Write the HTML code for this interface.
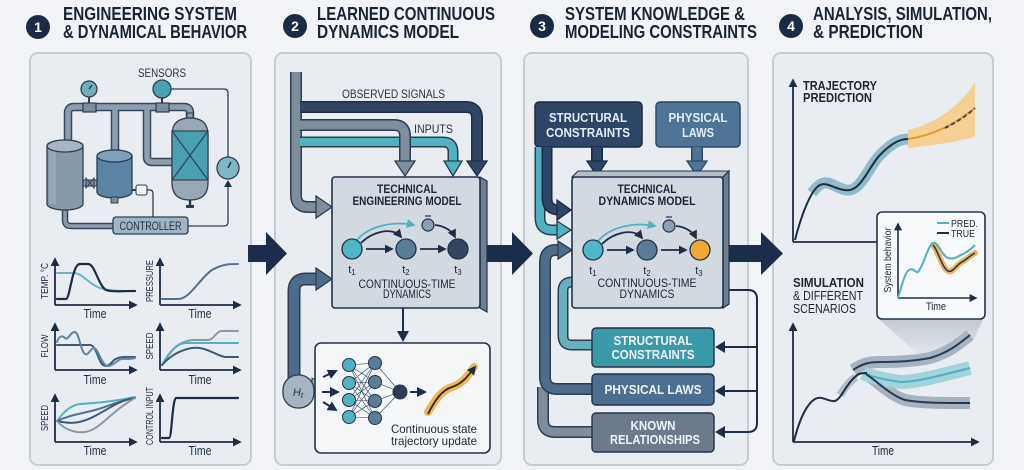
<!DOCTYPE html>
<html><head><meta charset="utf-8"><style>
html,body{margin:0;padding:0;background:#f1f3f6;}
svg{display:block;}
text{font-family:"Liberation Sans",sans-serif;}
.ti{font-weight:bold;font-size:18px;fill:#1b2433;}
.b{font-weight:bold;}
</style></head><body>
<svg width="1024" height="470" viewBox="0 0 1024 470" xmlns="http://www.w3.org/2000/svg">
<defs>
<marker id="ax" viewBox="0 0 10 10" refX="8" refY="5" markerWidth="5" markerHeight="5" orient="auto"><path d="M0,0 L10,5 L0,10 Z" fill="#1e2d45"/></marker>
<marker id="md" viewBox="0 0 10 10" refX="8" refY="5" markerWidth="5" markerHeight="5" orient="auto"><path d="M0,0 L10,5 L0,10 Z" fill="#1e2d45"/></marker>
<marker id="mc" viewBox="0 0 10 10" refX="8" refY="5" markerWidth="5" markerHeight="5" orient="auto"><path d="M0,0 L10,5 L0,10 Z" fill="#4fb1c2"/></marker>
<linearGradient id="spot" x1="0" y1="0" x2="0" y2="1"><stop offset="0" stop-color="#c2c9d1"/><stop offset="1" stop-color="#e6eaee"/></linearGradient>
</defs>
<rect width="1024" height="470" fill="#f1f3f6"/>

<!-- Titles -->
<circle cx="38" cy="27" r="12" fill="#1b2b45"/><text x="38" y="32" text-anchor="middle" class="b" font-size="14" fill="#fff">1</text>
<text x="63" y="20" class="ti" textLength="174" lengthAdjust="spacingAndGlyphs">ENGINEERING SYSTEM</text>
<text x="63" y="38" class="ti" textLength="184" lengthAdjust="spacingAndGlyphs">&amp; DYNAMICAL BEHAVIOR</text>
<circle cx="295" cy="26" r="12" fill="#1b2b45"/><text x="295" y="31" text-anchor="middle" class="b" font-size="14" fill="#fff">2</text>
<text x="317" y="20" class="ti" textLength="178" lengthAdjust="spacingAndGlyphs">LEARNED CONTINUOUS</text>
<text x="317" y="38" class="ti" textLength="142" lengthAdjust="spacingAndGlyphs">DYNAMICS MODEL</text>
<circle cx="542" cy="26" r="12" fill="#1b2b45"/><text x="542" y="31" text-anchor="middle" class="b" font-size="14" fill="#fff">3</text>
<text x="565" y="20" class="ti" textLength="180" lengthAdjust="spacingAndGlyphs">SYSTEM KNOWLEDGE &amp;</text>
<text x="565" y="38" class="ti" textLength="192" lengthAdjust="spacingAndGlyphs">MODELING CONSTRAINTS</text>
<circle cx="791" cy="26" r="12" fill="#1b2b45"/><text x="791" y="31" text-anchor="middle" class="b" font-size="14" fill="#fff">4</text>
<text x="813" y="20" class="ti" textLength="179" lengthAdjust="spacingAndGlyphs">ANALYSIS, SIMULATION,</text>
<text x="813" y="38" class="ti" textLength="110" lengthAdjust="spacingAndGlyphs">&amp; PREDICTION</text>

<!-- Panels -->
<g fill="#e9edf1" stroke="#c5ccd4" stroke-width="2">
<rect x="30" y="53" width="221" height="412" rx="8"/>
<rect x="275" y="53" width="226" height="412" rx="8"/>
<rect x="524" y="53" width="224" height="412" rx="8"/>
<rect x="773" y="53" width="220" height="412" rx="8"/>
</g>

<!-- ===== Panel 1 system ===== -->
<text x="162" y="77" text-anchor="middle" font-size="12" fill="#2a3442" textLength="48" lengthAdjust="spacingAndGlyphs">SENSORS</text>
<g fill="none" stroke-linecap="butt" stroke-linejoin="round">
<path d="M68,140 V113 Q68,107 74,107 H184 Q190,107 190,113 V118 M115,107 V150 M147,107 V157 Q147,162 152,162 H172" stroke="#34475e" stroke-width="8.5"/>
<path d="M68,140 V113 Q68,107 74,107 H184 Q190,107 190,113 V118 M115,107 V150 M147,107 V157 Q147,162 152,162 H172" stroke="#8d9dab" stroke-width="5.5"/>
<path d="M65,208 V220 Q65,226 71,226 H113" stroke="#34475e" stroke-width="6.5"/>
<path d="M65,208 V220 Q65,226 71,226 H113" stroke="#8d9dab" stroke-width="3.5"/>
</g>
<rect x="83" y="103" width="13" height="9" fill="#7d8d9c" stroke="#2c3e50" stroke-width="1.2"/>
<rect x="156" y="103" width="13" height="9" fill="#7d8d9c" stroke="#2c3e50" stroke-width="1.2"/>
<line x1="89" y1="97" x2="89" y2="103" stroke="#2c3e50" stroke-width="2"/>
<circle cx="89" cy="89" r="8" fill="#6fb0bd" stroke="#2c3e50" stroke-width="1.3"/>
<line x1="89" y1="89" x2="92" y2="85" stroke="#1e2d45" stroke-width="1.3"/>
<line x1="162" y1="98" x2="162" y2="103" stroke="#2c3e50" stroke-width="2"/>
<circle cx="162" cy="89" r="9" fill="#4aa3b5" stroke="#2c3e50" stroke-width="1.3"/>
<path d="M171,89 H224 Q228,89 228,93 V157" fill="none" stroke="#2c3e50" stroke-width="1.3"/>
<circle cx="228" cy="168" r="11" fill="#7fb7c4" stroke="#2c3e50" stroke-width="1.3"/>
<line x1="228" y1="168" x2="231" y2="162" stroke="#1e2d45" stroke-width="1.4"/>
<path d="M188,226 H224 Q228,226 228,222 V185" fill="none" stroke="#2c3e50" stroke-width="1.3"/>
<path d="M224,187 L232,187 L228,180 Z" fill="#1e2d45"/>
<!-- tank1 -->
<path d="M47,146 A18,6 0 0 1 83,146 V204 A18,6 0 0 1 47,204 Z" fill="#8899a9" stroke="#2c3e50" stroke-width="1.3"/>
<rect x="49" y="148" width="7" height="56" fill="#a3b0bd" opacity="0.6"/>
<ellipse cx="65" cy="146" rx="18" ry="6" fill="#a8b5c2" stroke="#2c3e50" stroke-width="1.3"/>
<!-- valve -->
<rect x="83" y="180" width="14" height="6" fill="#8d9dab" stroke="#2c3e50" stroke-width="1.1"/>
<path d="M86,178 L94,188 L94,178 L86,188 Z" fill="#7d8d9c" stroke="#2c3e50" stroke-width="1"/>
<!-- tank2 -->
<path d="M97,156 A17.5,6 0 0 1 132,156 V192 A17.5,6 0 0 1 97,192 Z" fill="#5b84a6" stroke="#2c3e50" stroke-width="1.3"/>
<ellipse cx="114.5" cy="156" rx="17.5" ry="6" fill="#7fa0bd" stroke="#2c3e50" stroke-width="1.3"/>
<rect x="111" y="197" width="7" height="6" fill="#7d8d9c" stroke="#2c3e50" stroke-width="1"/>
<line x1="132" y1="190" x2="136" y2="190" stroke="#2c3e50" stroke-width="2"/>
<rect x="136" y="185" width="11" height="10" rx="2" fill="#f3f5f7" stroke="#2c3e50" stroke-width="1.1"/>
<path d="M147,190 H150 Q153,190 153,194 V217" fill="none" stroke="#2c3e50" stroke-width="1.3"/>
<!-- reactor -->
<rect x="187" y="113" width="6" height="6" fill="#8d9dab" stroke="#2c3e50" stroke-width="1"/>
<path d="M172,135 Q172,118 190,118 Q208,118 208,135 V183 Q208,200 190,200 Q172,200 172,183 Z" fill="#9aa8b5" stroke="#2c3e50" stroke-width="1.3"/>
<rect x="172" y="131" width="36" height="49" fill="#4a9fb2" stroke="#2c3e50" stroke-width="1.2"/>
<path d="M172,131 L208,180 M208,131 L172,180" stroke="#2c3e50" stroke-width="1.1"/>
<line x1="190" y1="200" x2="190" y2="206" stroke="#2c3e50" stroke-width="2.5"/>
<rect x="186" y="205" width="8" height="3" fill="#2c3e50"/>
<!-- controller -->
<rect x="113" y="217" width="75" height="17" rx="3" fill="#a2b5c4" stroke="#2c3e50" stroke-width="1.3"/>
<text x="150.5" y="230" text-anchor="middle" font-size="11.5" fill="#1e2d45" textLength="62" lengthAdjust="spacingAndGlyphs">CONTROLLER</text>

<!-- Panel 1 charts -->
<g fill="none" stroke="#1e2d45" stroke-width="1.8">
<path d="M55,305 V259" marker-end="url(#ax)"/><path d="M55,305 H136" marker-end="url(#ax)"/>
<path d="M160,305 V259" marker-end="url(#ax)"/><path d="M160,305 H240" marker-end="url(#ax)"/>
<path d="M55,370 V324" marker-end="url(#ax)"/><path d="M55,370 H136" marker-end="url(#ax)"/>
<path d="M160,370 V324" marker-end="url(#ax)"/><path d="M160,370 H240" marker-end="url(#ax)"/>
<path d="M55,442 V395" marker-end="url(#ax)"/><path d="M55,442 H136" marker-end="url(#ax)"/>
<path d="M160,442 V395" marker-end="url(#ax)"/><path d="M160,442 H240" marker-end="url(#ax)"/>
</g>
<g fill="none" stroke-width="2" stroke-linecap="round">
<path d="M57,273 H74 C82,273 90,285 100,288 C110,291 120,291 135,291" stroke="#6cb5c2"/>
<path d="M57,299 H66 C70,299 72,264 80,264 H88 C95,264 98,285 106,290 C112,292 120,291 135,291" stroke="#1e2d45" stroke-width="2.2"/>
<path d="M162,299 H178 C190,299 200,278 212,270 C222,264 230,264 238,264" stroke="#4d7296"/>
<path d="M57,345 H90 C96,345 98,360 102,364 C106,368 110,365 114,360 C120,356 128,357 135,357" stroke="#3d5a7a"/>
<path d="M57,342 C59,336 62,335 65,338 C68,341 71,331 75,332 C79,333 80,348 84,353 C88,358 90,348 94,348 C98,348 102,366 108,366 C114,366 118,358 124,359 C128,359 132,359 135,358" stroke="#6285a3"/>
<path d="M162,365 C170,350 178,342 192,340 H208 C214,340 216,331 222,331 H238" stroke="#8a97a4"/>
<path d="M162,365 C170,352 176,344 185,343 H238" stroke="#4fb1c2"/>
<path d="M162,365 C170,356 180,350 192,348 C205,346 215,355 225,357 H238" stroke="#3d5a7a"/>
<path d="M57,421 C65,410 72,405 80,404 C95,403 110,402 135,397" stroke="#4fb1c2"/>
<path d="M57,421 C70,415 80,414 95,410 C110,406 120,400 135,398" stroke="#4d7296"/>
<path d="M57,421 C70,424 80,424 95,416 C110,408 120,400 135,398" stroke="#3d5a7a"/>
<path d="M57,421 C65,430 75,433 85,432 C100,430 110,412 135,398" stroke="#8a97a4"/>
<path d="M162,438 H169 C172,438 172,400 176,398 H238" stroke="#1e2d45" stroke-width="2.2"/>
</g>
<g font-size="10.5" fill="#1e2d45" text-anchor="middle">
<text transform="translate(48,281) rotate(-90)" textLength="36" lengthAdjust="spacingAndGlyphs">TEMP. °C</text>
<text transform="translate(153,281) rotate(-90)" textLength="42" lengthAdjust="spacingAndGlyphs">PRESSURE</text>
<text transform="translate(48,346) rotate(-90)" textLength="23" lengthAdjust="spacingAndGlyphs">FLOW</text>
<text transform="translate(153,346) rotate(-90)" textLength="27" lengthAdjust="spacingAndGlyphs">SPEED</text>
<text transform="translate(48,418) rotate(-90)" textLength="26" lengthAdjust="spacingAndGlyphs">SPEED</text>
<text transform="translate(153,416) rotate(-90)" textLength="58" lengthAdjust="spacingAndGlyphs">CONTROL INPUT</text>
</g>
<g font-size="12.5" fill="#1e2d45" text-anchor="middle">
<text x="95" y="318" textLength="23" lengthAdjust="spacingAndGlyphs">Time</text>
<text x="200" y="318" textLength="23" lengthAdjust="spacingAndGlyphs">Time</text>
<text x="95" y="384" textLength="23" lengthAdjust="spacingAndGlyphs">Time</text>
<text x="200" y="384" textLength="23" lengthAdjust="spacingAndGlyphs">Time</text>
<text x="95" y="455" textLength="23" lengthAdjust="spacingAndGlyphs">Time</text>
<text x="200" y="455" textLength="23" lengthAdjust="spacingAndGlyphs">Time</text>
</g>

<!-- ===== Panel 2 ===== -->
<text x="342" y="98" font-size="12" fill="#2a3442" textLength="103" lengthAdjust="spacingAndGlyphs">OBSERVED SIGNALS</text>
<text x="414" y="133" font-size="12" fill="#2a3442" textLength="39" lengthAdjust="spacingAndGlyphs">INPUTS</text>
<g fill="none" stroke-linejoin="round">
<!-- outlines -->
<path d="M296,72 V195 Q296,207 308,207 H319" stroke="#2c3e50" stroke-width="12"/>
<path d="M296,72 V195 Q296,207 308,207 H319" stroke="#7f8e9d" stroke-width="9"/>
<path d="M300,142 H443 Q453,142 453,152 V163" stroke="#2c3e50" stroke-width="11"/>
<path d="M300,142 H443 Q453,142 453,152 V163" stroke="#4fb1c2" stroke-width="8"/>
<path d="M300,125 H394 Q405,125 405,136 V163" stroke="#2c3e50" stroke-width="12"/>
<path d="M300,125 H394 Q405,125 405,136 V163" stroke="#7f8e9d" stroke-width="9"/>
<path d="M300,107 H466 Q477,107 477,118 V163" stroke="#1e2d45" stroke-width="12"/>
<path d="M300,107 H466 Q477,107 477,118 V163" stroke="#2e4566" stroke-width="9"/>
<path d="M294,380 V291 Q294,279 306,279 H319" stroke="#2c3e50" stroke-width="13"/>
<path d="M294,380 V291 Q294,279 306,279 H319" stroke="#4d6b8a" stroke-width="10"/>
</g>
<path d="M316,196 L332,207 L316,218 Z" fill="#7f8e9d" stroke="#2c3e50" stroke-width="1.3"/>
<path d="M444,161 L462,161 L453,176 Z" fill="#4fb1c2" stroke="#2c3e50" stroke-width="1.3"/>
<path d="M395,161 L415,161 L405,176 Z" fill="#7f8e9d" stroke="#2c3e50" stroke-width="1.3"/>
<path d="M467,161 L487,161 L477,176 Z" fill="#2e4566" stroke="#1e2d45" stroke-width="1.3"/>
<path d="M316,268 L332,279 L316,290 Z" fill="#4d6b8a" stroke="#2c3e50" stroke-width="1.3"/>
<!-- Ht tab -->
<path d="M312,378 L322,384 L312,390 Z" fill="#a6b4c2" stroke="#2c3e50" stroke-width="1"/>
<rect x="283" y="375" width="31" height="33" rx="15" fill="#a6b4c2" stroke="#2c3e50" stroke-width="1.3"/>
<text x="298" y="396" text-anchor="middle" font-family="Liberation Serif,serif" font-style="italic" font-size="11" fill="#2a3442">H<tspan font-size="8" dy="2">t</tspan></text>

<!-- model box P2 -->
<path d="M480,177 L487,181 L487,312 L480,308 Z" fill="#6e7d8f" stroke="#22324a" stroke-width="1.2"/>
<rect x="332" y="177" width="148" height="131" rx="3" fill="#d3d9e0" stroke="#22324a" stroke-width="1.6"/>
<text x="407" y="193" text-anchor="middle" class="b" font-size="12" fill="#1e2633" textLength="60" lengthAdjust="spacingAndGlyphs">TECHNICAL</text>
<text x="407" y="205" text-anchor="middle" class="b" font-size="12" fill="#1e2633" textLength="109" lengthAdjust="spacingAndGlyphs">ENGINEERING MODEL</text>
<text x="407" y="288" text-anchor="middle" font-size="12" fill="#1e2633" textLength="97" lengthAdjust="spacingAndGlyphs">CONTINUOUS-TIME</text>
<text x="407" y="298" text-anchor="middle" font-size="12" fill="#1e2633" textLength="48" lengthAdjust="spacingAndGlyphs">DYNAMICS</text>
<g id="nodes2">
<g fill="none" stroke-width="1.8">
<path d="M357,240 C370,225 395,221 414,225" stroke="#4fb1c2" marker-end="url(#mc)"/>
<path d="M361,243 C372,232 392,226 401,237" stroke="#1e2d45" marker-end="url(#md)"/>
<path d="M435,225 C445,226 452,231 455,237" stroke="#1e2d45" marker-end="url(#md)"/>
<path d="M366,249 H392" stroke="#1e2d45" marker-end="url(#md)"/>
<path d="M420,249 H445" stroke="#1e2d45" marker-end="url(#md)"/>
</g>
<circle cx="352" cy="249" r="10" fill="#4fb8c8" stroke="#22324a" stroke-width="1.3"/>
<circle cx="406" cy="249" r="10" fill="#5a7d9a" stroke="#22324a" stroke-width="1.3"/>
<circle cx="428" cy="225" r="6" fill="#8da0b3" stroke="#22324a" stroke-width="1.2"/>
<line x1="425" y1="216" x2="431" y2="216" stroke="#22324a" stroke-width="1.2"/>
<g font-family="Liberation Serif,serif" font-size="11" fill="#1e2633" text-anchor="middle">
<text x="352" y="273">t<tspan font-size="8" dy="2">1</tspan></text>
<text x="406" y="273">t<tspan font-size="8" dy="2">2</tspan></text>
<text x="458" y="273">t<tspan font-size="8" dy="2">3</tspan></text>
</g>
</g>
<circle cx="458" cy="249" r="10" fill="#34465f" stroke="#22324a" stroke-width="1.3"/>

<line x1="403" y1="308" x2="403" y2="333" stroke="#1e2d45" stroke-width="2"/>
<path d="M397,331 L409,331 L403,342 Z" fill="#1e2d45"/>
<!-- network box -->
<rect x="315" y="343" width="175" height="110" rx="6" fill="#f4f6f8" stroke="#22324a" stroke-width="1.6"/>
<g stroke="#2c3e50" stroke-width="0.6">
<path d="M349,365 L375,363 M349,365 L375,382 M349,365 L375,401 M349,365 L375,418 M349,383 L375,363 M349,383 L375,382 M349,383 L375,401 M349,383 L375,418 M349,400 L375,363 M349,400 L375,382 M349,400 L375,401 M349,400 L375,418 M349,417 L375,363 M349,417 L375,382 M349,417 L375,401 M349,417 L375,418 M375,363 L400,392 M375,382 L400,392 M375,401 L400,392 M375,418 L400,392"/>
</g>
<g fill="#4fb1c2" stroke="#22324a" stroke-width="1">
<circle cx="349" cy="365" r="6.5"/><circle cx="349" cy="383" r="6.5"/><circle cx="349" cy="400" r="6.5"/><circle cx="349" cy="417" r="6.5"/>
</g>
<g fill="#5a7d9a" stroke="#22324a" stroke-width="1">
<circle cx="375" cy="363" r="6.5"/><circle cx="375" cy="382" r="6.5"/><circle cx="375" cy="401" r="6.5"/><circle cx="375" cy="418" r="6.5"/>
</g>
<circle cx="400" cy="392" r="7" fill="#2c3e57" stroke="#22324a" stroke-width="1"/>
<g fill="none" stroke="#1e2d45" stroke-width="2">
<path d="M323,377 L336,371" marker-end="url(#md)"/>
<path d="M322,392 L338,392" marker-end="url(#md)"/>
<path d="M323,402 L336,410" marker-end="url(#md)"/>
<path d="M410,392 L425,392" marker-end="url(#md)"/>
</g>
<path d="M428,412 C435,400 442,390 452,387 C462,384 468,376 474,367" fill="none" stroke="#f2b450" stroke-width="8" stroke-linecap="round"/>
<path d="M428,414 C435,400 442,390 452,387 C462,384 468,376 475,367" fill="none" stroke="#1e2d45" stroke-width="1.8" marker-end="url(#md)"/>
<text x="391" y="433" font-size="12" fill="#1e2633" textLength="86" lengthAdjust="spacingAndGlyphs">Continuous state</text>
<text x="391" y="445" font-size="12" fill="#1e2633" textLength="86" lengthAdjust="spacingAndGlyphs">trajectory update</text>

<!-- ===== Panel 3 ===== -->
<rect x="535" y="102" width="107" height="45" rx="4" fill="#2d4566" stroke="#1a2a40" stroke-width="1.5"/>
<rect x="656" y="102" width="84" height="45" rx="4" fill="#4e7498" stroke="#2c4866" stroke-width="1.5"/>
<g class="b" font-size="12.5" fill="#e4ecf4" text-anchor="middle">
<text x="588" y="122" textLength="78" lengthAdjust="spacingAndGlyphs">STRUCTURAL</text>
<text x="588" y="137" textLength="84" lengthAdjust="spacingAndGlyphs">CONSTRAINTS</text>
<text x="698" y="122" textLength="59" lengthAdjust="spacingAndGlyphs">PHYSICAL</text>
<text x="698" y="137" textLength="32" lengthAdjust="spacingAndGlyphs">LAWS</text>
</g>
<g fill="none" stroke-linejoin="round">
<path d="M597,147 V163" stroke="#1a2a40" stroke-width="12"/><path d="M597,147 V163" stroke="#2d4566" stroke-width="9"/>
<path d="M697,147 V163" stroke="#2c4866" stroke-width="12"/><path d="M697,147 V163" stroke="#4e7498" stroke-width="9"/>
<path d="M540,147 V218 Q540,230 552,230 H559" stroke="#2c3e50" stroke-width="11"/>
<path d="M540,147 V218 Q540,230 552,230 H559" stroke="#4fb1c2" stroke-width="8"/>
<path d="M547,147 V198 Q547,210 559,210 H559" stroke="#1a2a40" stroke-width="11"/>
<path d="M547,147 V198 Q547,210 559,210 H559" stroke="#2d4566" stroke-width="8"/>
<path d="M543,387 V420 Q543,432 555,432 H593" stroke="#2c3e50" stroke-width="12"/>
<path d="M543,387 V420 Q543,432 555,432 H593" stroke="#7f8e9d" stroke-width="9"/>
<path d="M560,250 H556 Q545,250 545,262 V377 Q545,389 557,389 H593" stroke="#2c3e50" stroke-width="12"/>
<path d="M560,250 H556 Q545,250 545,262 V377 Q545,389 557,389 H593" stroke="#4d6b8a" stroke-width="9"/>
<path d="M573,282 H572 Q563,282 563,291 V336 Q563,345 572,345 H593" stroke="#2c3e50" stroke-width="11"/>
<path d="M573,282 H572 Q563,282 563,291 V336 Q563,345 572,345 H593" stroke="#6ab0bc" stroke-width="8"/>
</g>
<path d="M587,161 L607,161 L597,176 Z" fill="#2d4566" stroke="#1a2a40" stroke-width="1.3"/>
<path d="M687,161 L707,161 L697,176 Z" fill="#4e7498" stroke="#2c4866" stroke-width="1.3"/>
<path d="M557,200 L571,210 L557,220 Z" fill="#2d4566" stroke="#1a2a40" stroke-width="1.3"/>
<path d="M557,221 L571,230 L557,239 Z" fill="#4fb1c2" stroke="#2c3e50" stroke-width="1.3"/>
<path d="M558,241 L572,250 L558,259 Z" fill="#4d6b8a" stroke="#2c3e50" stroke-width="1.3"/>

<!-- model box P3 -->
<path d="M572,177 L578,171 L729,171 L723,177 Z" fill="#b5bfca" stroke="#22324a" stroke-width="1.1"/>
<path d="M723,177 L729,171 L729,304 L723,308 Z" fill="#6e7d8f" stroke="#22324a" stroke-width="1.2"/>
<rect x="572" y="177" width="151" height="131" rx="3" fill="#d3d9e0" stroke="#22324a" stroke-width="1.6"/>
<text x="647" y="193" text-anchor="middle" class="b" font-size="12" fill="#1e2633" textLength="59" lengthAdjust="spacingAndGlyphs">TECHNICAL</text>
<text x="647" y="205" text-anchor="middle" class="b" font-size="12" fill="#1e2633" textLength="97" lengthAdjust="spacingAndGlyphs">DYNAMICS MODEL</text>
<text x="647" y="287" text-anchor="middle" font-size="12" fill="#1e2633" textLength="99" lengthAdjust="spacingAndGlyphs">CONTINUOUS-TIME</text>
<text x="647" y="298" text-anchor="middle" font-size="12" fill="#1e2633" textLength="55" lengthAdjust="spacingAndGlyphs">DYNAMICS</text>
<g transform="translate(241,1)">
<use href="#nodes2"/>
</g>
<circle cx="700" cy="250" r="10" fill="#f0a830" stroke="#22324a" stroke-width="1.3"/>

<!-- lower boxes P3 -->
<rect x="592" y="328" width="122" height="39" rx="4" fill="#3b9aaa" stroke="#22324a" stroke-width="1.4"/>
<rect x="592" y="374" width="122" height="31" rx="4" fill="#4a6f93" stroke="#22324a" stroke-width="1.4"/>
<rect x="592" y="413" width="122" height="39" rx="4" fill="#6c7a8b" stroke="#22324a" stroke-width="1.4"/>
<g class="b" font-size="12.5" fill="#eef3f7" text-anchor="middle">
<text x="653" y="345" textLength="79" lengthAdjust="spacingAndGlyphs">STRUCTURAL</text>
<text x="653" y="359" textLength="83" lengthAdjust="spacingAndGlyphs">CONSTRAINTS</text>
<text x="653" y="394" textLength="97" lengthAdjust="spacingAndGlyphs">PHYSICAL LAWS</text>
<text x="653" y="430" textLength="45" lengthAdjust="spacingAndGlyphs">KNOWN</text>
<text x="655" y="444" textLength="90" lengthAdjust="spacingAndGlyphs">RELATIONSHIPS</text>
</g>
<g fill="none" stroke="#1e2d45" stroke-width="2">
<path d="M729,290 H748 Q757,290 757,299 V423 Q757,432 748,432 H722"/>
<path d="M757,347 H722"/><path d="M757,391 H722"/>
</g>
<g fill="#1e2d45">
<path d="M715,347 L725,341 L725,353 Z"/><path d="M715,391 L725,385 L725,397 Z"/><path d="M715,432 L725,426 L725,438 Z"/>
</g>

<!-- ===== Big arrows ===== -->
<g fill="#1b2d4a">
<path d="M248,245 H266 V232 L287,253.5 L266,275 V262 H248 Z"/>
<path d="M487,245 H512 V232 L533,253.5 L512,275 V262 H487 Z"/>
<path d="M729,245 H761 V232 L783,253.5 L761,275 V262 H729 Z"/>
</g>

<!-- ===== Panel 4 ===== -->
<path d="M793,242 V80" fill="none" stroke="#1e2d45" stroke-width="1.8" marker-end="url(#ax)"/>
<line x1="793" y1="242" x2="877" y2="242" stroke="#1e2d45" stroke-width="1.8"/>
<text x="803" y="90" class="b" font-size="12.5" fill="#1e2633" textLength="74" lengthAdjust="spacingAndGlyphs">TRAJECTORY</text>
<text x="803" y="102" class="b" font-size="12.5" fill="#1e2633" textLength="69" lengthAdjust="spacingAndGlyphs">PREDICTION</text>
<path d="M908,130 C930,125 958,110 975,82 V137 C955,142 930,146 908,148 Z" fill="#f5cf94"/>
<path d="M812,193 C818,185 822,182 828,183 C836,185 842,191 850,190 C862,188 870,165 880,155 C890,145 898,139 908,139" fill="none" stroke="#8fbcc8" stroke-width="11"/>
<path d="M795,240 C800,220 810,190 820,185 C828,181 838,192 850,190 C862,188 870,165 880,155 C890,145 898,139 908,139" fill="none" stroke="#1e2d45" stroke-width="2"/>
<path d="M908,139 C930,136 955,125 975,108" fill="none" stroke="#e09a2a" stroke-width="2"/>
<path d="M945,128 C955,123 965,117 975,108" fill="none" stroke="#3c4a5c" stroke-width="2" stroke-dasharray="4,3"/>

<!-- spotlight -->
<path d="M879,319 L983,319 L975,338 L922,358 Z" fill="url(#spot)"/>
<!-- inset -->
<rect x="877" y="212" width="108" height="107" rx="5" fill="#f7f9fb" stroke="#22324a" stroke-width="1.6"/>
<path d="M898,298 V224" fill="none" stroke="#1e2d45" stroke-width="1.6" marker-end="url(#ax)"/>
<path d="M898,298 H976" fill="none" stroke="#1e2d45" stroke-width="1.6" marker-end="url(#ax)"/>
<text transform="translate(891,260) rotate(-90)" text-anchor="middle" font-size="10.5" fill="#1e2633" textLength="65" lengthAdjust="spacingAndGlyphs">System behavior</text>
<text x="936" y="310" text-anchor="middle" font-size="11" fill="#1e2633" textLength="20" lengthAdjust="spacingAndGlyphs">Time</text>
<line x1="937" y1="223" x2="949" y2="223" stroke="#4fb1c2" stroke-width="2"/>
<line x1="937" y1="233" x2="949" y2="233" stroke="#1e2d45" stroke-width="2"/>
<text x="951" y="227" font-size="10.5" fill="#1e2633" textLength="27" lengthAdjust="spacingAndGlyphs">PRED.</text>
<text x="951" y="237" font-size="10.5" fill="#1e2633" textLength="24" lengthAdjust="spacingAndGlyphs">TRUE</text>
<path d="M933,245 C938,250 942,268 948,271 C953,273 956,265 962,262 C967,259 971,255 975,253" fill="none" stroke="#f0b860" stroke-width="6" stroke-linecap="round"/>
<path d="M933,245 C938,250 942,268 948,271 C953,273 956,265 962,262 C967,259 971,255 975,253" fill="none" stroke="#2a3a55" stroke-width="1.6"/>
<path d="M898,298 C902,285 905,272 909,270 C913,267 915,273 918,272 C924,265 928,245 933,243 C938,241 942,256 948,258 C954,260 958,256 965,253 C970,250 973,247 975,245" fill="none" stroke="#4fb1c2" stroke-width="2"/>

<!-- lower chart -->
<text x="793" y="287" class="b" font-size="12.5" fill="#1e2633" textLength="71" lengthAdjust="spacingAndGlyphs">SIMULATION</text>
<text x="793" y="300" font-size="12.5" fill="#1e2633" textLength="70" lengthAdjust="spacingAndGlyphs">&amp; DIFFERENT</text>
<text x="793" y="313" font-size="12.5" fill="#1e2633" textLength="63" lengthAdjust="spacingAndGlyphs">SCENARIOS</text>
<path d="M793,442 V324" fill="none" stroke="#1e2d45" stroke-width="1.8" marker-end="url(#ax)"/>
<path d="M793,442 H978" fill="none" stroke="#1e2d45" stroke-width="1.8" marker-end="url(#ax)"/>
<text x="883" y="455" text-anchor="middle" font-size="12.5" fill="#1e2633" textLength="22" lengthAdjust="spacingAndGlyphs">Time</text>
<g fill="none">
<path d="M853,370 C862,364 868,362 880,362 C900,362 915,361 930,358 C950,352 960,343 970,335" stroke="#a8b3bf" stroke-width="12"/>
<path d="M866,374 C878,382 890,395 905,400 C920,403 940,403 970,403" stroke="#a8b3bf" stroke-width="12"/>
<path d="M863,373 C870,376 880,379 900,382 C915,382 935,377 970,368" stroke="#a3d3db" stroke-width="14"/>
<path d="M840,395 C846,386 850,381 856,377" stroke="#b5bec8" stroke-width="8"/>
<path d="M853,370 C862,364 868,362 880,362 C900,362 915,361 930,358 C950,352 960,343 970,335" stroke="#2a3a55" stroke-width="2"/>
<path d="M863,373 C870,376 880,379 900,382 C915,382 935,377 970,368" stroke="#4fb1c2" stroke-width="2"/>
<path d="M866,374 C878,382 890,395 905,400 C920,403 940,403 970,403" stroke="#2a3a55" stroke-width="2"/>
<path d="M794,441 C798,425 805,405 815,399 C822,395 828,402 835,401 C842,398 846,384 855,377 C859,373 862,373 867,373" stroke="#1e2d45" stroke-width="2"/>
</g>
</svg>
</body></html>
